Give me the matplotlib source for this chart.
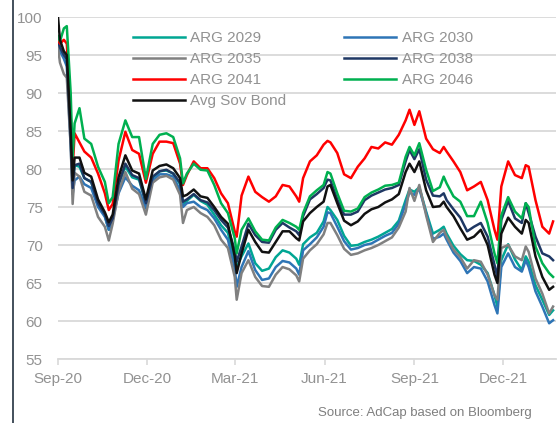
import matplotlib
matplotlib.use("Agg")
import matplotlib.pyplot as plt
import matplotlib.dates as mdates
from matplotlib.lines import Line2D
from matplotlib.patches import Rectangle
import numpy as np

plt.rcParams['font.family'] = ['Liberation Sans', 'DejaVu Sans']

# dates of the sampled points
dates = [
    "2020-09-01", "2020-09-03", "2020-09-07", "2020-09-10", "2020-09-14", "2020-09-16", "2020-09-18", "2020-09-23", "2020-09-28",
    "2020-10-05", "2020-10-12", "2020-10-19", "2020-10-23", "2020-10-27",
    "2020-11-02", "2020-11-09", "2020-11-16", "2020-11-23", "2020-11-30",
    "2020-12-07", "2020-12-14", "2020-12-21", "2020-12-28",
    "2021-01-04", "2021-01-07", "2021-01-11", "2021-01-18", "2021-01-25",
    "2021-02-01", "2021-02-08", "2021-02-15", "2021-02-22",
    "2021-03-01", "2021-03-03", "2021-03-08", "2021-03-15", "2021-03-22", "2021-03-29",
    "2021-04-05", "2021-04-12", "2021-04-19", "2021-04-26",
    "2021-05-03", "2021-05-06", "2021-05-10", "2021-05-17", "2021-05-24", "2021-05-31",
    "2021-06-04", "2021-06-07", "2021-06-14", "2021-06-21", "2021-06-28",
    "2021-07-05", "2021-07-12", "2021-07-19", "2021-07-26",
    "2021-08-02", "2021-08-09", "2021-08-16", "2021-08-23", "2021-08-27",
    "2021-09-01", "2021-09-06", "2021-09-13", "2021-09-20", "2021-09-27",
    "2021-10-01", "2021-10-04", "2021-10-11", "2021-10-18", "2021-10-25",
    "2021-11-01", "2021-11-08", "2021-11-15", "2021-11-22", "2021-11-25", "2021-11-29",
    "2021-12-06", "2021-12-13", "2021-12-20", "2021-12-24", "2021-12-27",
    "2022-01-03", "2022-01-10", "2022-01-17", "2022-01-21",
]

arg2029 = [97.0, 96.0, 95.0, 94.5, 84.0, 78.0, 80.5, 80.3, 78.8,
           78.3, 75.5, 73.8, 72.0, 73.5,
           78.0, 80.3, 78.9, 78.6, 75.5,
           78.8, 79.7, 79.8, 79.4,
           78.0, 75.3, 75.8, 76.6, 75.8,
           75.3, 74.0, 72.6, 71.6,
           68.0, 67.1, 68.5, 70.2, 67.6, 66.6,
           66.9, 68.4, 69.3, 69.0,
           68.2, 67.4, 70.1, 71.0, 71.6, 73.1,
           75.0, 74.6, 73.3, 71.2, 69.9,
           70.0, 70.4, 70.7, 71.1,
           71.6, 72.1, 73.2, 75.9, 77.3,
           77.0, 77.6, 74.4, 71.5, 72.0,
           72.4, 71.5, 69.9, 68.8, 68.0,
           67.9, 67.4, 66.3, 63.4, 61.9, 68.0,
           70.1, 68.1, 66.7, 68.5, 67.8,
           64.7, 62.8, 60.8, 61.4]

arg2030 = [96.5, 95.5, 94.5, 93.5, 83.0, 76.7, 78.5, 79.0, 78.0,
           77.5, 75.0, 73.7, 72.0, 73.3,
           76.8, 78.9, 77.8, 77.2, 74.8,
           78.5, 79.3, 79.3, 79.0,
           77.2, 75.0, 75.5, 75.7, 75.0,
           74.6, 73.5, 72.0, 70.7,
           66.9, 64.5, 67.1, 69.2, 66.7, 65.4,
           65.6, 67.1, 67.9, 67.7,
           66.9, 66.1, 69.3, 70.1, 71.0, 72.4,
           74.3, 74.2, 72.4, 70.5, 69.4,
           69.6, 70.0, 70.2, 70.7,
           71.2, 71.6, 72.8, 75.4, 76.9,
           76.6, 77.4, 74.2, 70.8, 71.1,
           71.5, 70.7, 69.0, 67.9, 66.3,
           67.1, 66.9, 65.2, 62.1, 61.0, 67.1,
           68.9, 67.1, 66.5, 68.0, 67.1,
           63.9, 61.9, 59.7, 60.1]

arg2035 = [96.0, 94.0, 92.5, 92.0, 83.0, 75.4, 79.5, 79.0, 77.0,
           76.5, 73.7, 72.4, 70.6, 72.8,
           77.0, 79.6, 77.4, 76.7, 74.0,
           78.2, 78.9, 79.1, 78.6,
           76.6, 72.9, 74.6, 75.0, 74.2,
           73.7, 72.6, 70.7, 69.6,
           65.8, 62.8, 66.3, 68.0, 65.8, 64.6,
           64.5, 66.1, 67.1, 66.8,
           66.0, 65.2, 68.2, 69.3, 70.1, 71.4,
           72.9, 72.9, 71.3, 69.5, 68.7,
           68.9, 69.3, 69.6, 70.0,
           70.5, 71.0, 72.3, 74.4, 77.5,
           75.8, 77.9, 73.9, 70.4, 71.6,
           72.0, 71.1, 69.4, 68.4, 66.9,
           68.0, 67.8, 66.1, 63.4, 62.8, 69.6,
           70.0, 68.5, 68.0, 69.8, 69.1,
           65.6, 63.6, 61.0, 61.9]

arg2038 = [97.0, 96.0, 95.0, 94.5, 84.0, 77.5, 80.5, 80.7, 78.8,
           78.3, 75.5, 74.0, 72.5, 73.5,
           78.0, 80.7, 79.2, 78.8, 75.5,
           79.0, 79.7, 79.9, 79.4,
           78.2, 75.7, 76.0, 76.7, 75.9,
           75.6, 74.6, 73.3, 72.3,
           69.3, 67.8, 69.8, 72.8, 71.3, 70.4,
           70.3, 72.0, 72.9, 72.3,
           71.8, 71.3, 73.8, 76.0, 76.7, 77.5,
           78.6, 78.5, 76.0, 74.0, 74.0,
           74.4, 75.9, 76.5, 76.9,
           77.3, 77.5, 77.9, 81.0, 82.5,
           81.3, 82.6, 78.6, 76.5, 76.4,
           76.8, 75.9, 74.7, 73.6, 71.8,
           72.4, 72.9, 71.1, 67.4, 65.8, 73.3,
           75.8, 73.5, 72.9, 75.5, 74.2,
           71.1, 68.9, 68.5, 68.0]

arg2041 = [97.0, 96.5, 97.0, 96.5, 87.0, 80.0, 84.7, 83.5, 82.3,
           81.5, 79.4, 76.8, 74.6, 75.4,
           81.1, 84.9, 82.5, 82.0, 78.2,
           82.0, 83.6, 83.6, 83.4,
           80.7, 77.9, 79.2, 81.0, 80.1,
           80.1, 78.8, 76.8, 75.5,
           71.8, 71.1, 76.5, 79.0, 77.0, 76.3,
           75.7, 76.4, 77.9, 77.7,
           76.4, 75.7, 78.8, 81.0, 81.8, 83.2,
           83.7, 83.5, 82.1, 79.3, 78.8,
           80.3, 81.4, 82.9, 82.7,
           83.5, 83.2, 84.5, 86.4, 87.8,
           85.8, 87.6, 84.0, 82.6, 82.1,
           82.9, 82.3, 81.0, 79.6, 77.2,
           77.7, 78.3, 75.9, 72.0, 70.7, 77.7,
           81.0, 79.2, 78.8, 80.5, 80.3,
           75.9, 72.4, 71.5, 73.1]

arg2046 = [97.5, 96.8, 98.5, 98.8, 90.0, 81.5, 86.0, 88.0, 84.0,
           83.3, 80.3, 78.3, 75.5, 76.3,
           83.3, 86.4, 84.2, 84.2, 78.7,
           83.3, 84.5, 84.7, 84.2,
           81.4, 78.1, 79.4, 80.7, 79.9,
           79.8, 77.9, 75.5, 74.2,
           70.9, 68.9, 72.0, 73.5, 71.8, 70.7,
           70.6, 72.3, 73.3, 72.9,
           72.4, 72.0, 74.2, 76.4, 77.2, 77.9,
           79.6, 79.4, 76.8, 74.5, 74.4,
           74.8, 76.3, 76.9, 77.3,
           77.8, 77.9, 78.2, 81.6, 82.9,
           81.8, 83.4, 79.9, 77.1, 77.6,
           79.0, 78.1, 76.4, 75.7, 73.8,
           73.8, 75.7, 72.9, 68.9, 67.6, 73.9,
           76.3, 74.4, 73.5, 75.5, 75.0,
           69.8, 67.6, 66.3, 65.8]

avg_sov = [100.0, 97.0, 95.5, 95.0, 85.0, 78.5, 81.5, 81.5, 79.5,
           79.0, 76.0, 74.3, 73.0, 74.0,
           78.9, 81.8, 79.8, 79.4, 76.0,
           79.8, 80.4, 80.6, 80.1,
           78.8, 76.4, 76.6, 77.3, 76.4,
           76.2, 75.0, 73.7, 72.8,
           68.5, 66.3, 68.9, 72.0, 70.4, 69.1,
           69.0, 70.4, 71.8, 71.8,
           70.9, 70.6, 73.1, 74.2, 75.0, 75.7,
           77.7, 77.9, 75.5, 73.2, 72.6,
           73.1, 74.1, 74.7, 75.0,
           75.6, 76.0, 76.7, 79.6, 80.7,
           79.6, 81.0, 77.2, 75.0, 75.1,
           75.7, 75.0, 73.8, 72.2, 70.7,
           71.1, 72.0, 70.0, 66.1, 65.0, 71.5,
           73.6, 72.4, 71.5, 73.3, 72.9,
           68.5, 65.8, 64.1, 64.5]

x = np.array(dates, dtype="datetime64[D]")

series = [
    ("ARG 2029", arg2029, "#00A693"),
    ("ARG 2030", arg2030, "#2E75B6"),
    ("ARG 2035", arg2035, "#808080"),
    ("ARG 2038", arg2038, "#1F3864"),
    ("ARG 2041", arg2041, "#FF0000"),
    ("ARG 2046", arg2046, "#00B050"),
    ("Avg Sov Bond", avg_sov, "#111111"),
]

fig = plt.figure(figsize=(5.58, 4.23), dpi=100)
ax = fig.add_axes([58 / 558, 1 - 359 / 423, 498 / 558, 342 / 423])

handles = {}
for name, vals, col in series:
    ln, = ax.plot(x, vals, color=col, lw=1.8, label=name, zorder=3)
    handles[name] = ln

ax.set_ylim(55, 100)
ax.set_yticks(range(55, 101, 5))
ax.set_xlim(np.datetime64("2020-09-01"), np.datetime64("2022-01-24"))
ax.xaxis.set_major_locator(mdates.MonthLocator(bymonth=[3, 6, 9, 12]))
ax.xaxis.set_major_formatter(mdates.DateFormatter("%b-%y"))

ax.grid(axis="y", color="#D9D9D9", lw=1.3, zorder=0)
for s in ["top", "right", "left"]:
    ax.spines[s].set_visible(False)
ax.spines["bottom"].set_color("#D9D9D9")
ax.spines["bottom"].set_linewidth(1.3)
ax.tick_params(axis="y", length=0, pad=11, labelsize=11, labelcolor="#929292")
ax.tick_params(axis="x", length=4, width=1.2, color="#D9D9D9", pad=5,
               labelsize=11, labelcolor="#929292")

# white box behind the legend hides the grid there
ax.add_patch(Rectangle((40 / 498, 87.0), 474 / 498, 12.0, facecolor="white",
                       edgecolor="none", zorder=1,
                       transform=ax.get_yaxis_transform()))

order = ["ARG 2029", "ARG 2035", "ARG 2041", "Avg Sov Bond",
         "ARG 2030", "ARG 2038", "ARG 2046"]
leg = fig.legend([handles[n] for n in order], order, ncol=2, loc="upper left",
                 bbox_to_anchor=(133 / 558, 1 - 31 / 423), frameon=False,
                 borderaxespad=0, borderpad=0, handlelength=3.4,
                 handletextpad=0.35, columnspacing=3.8, labelspacing=0.46,
                 fontsize=11)
for t in leg.get_texts():
    t.set_color("#929292")

# left border line of the original box
fig.add_artist(Line2D([13 / 558, 13 / 558], [0, 1], color="#22313F", lw=1.2))

fig.text(532 / 558, 1 - 416 / 423, "Source: AdCap based on Bloomberg",
         ha="right", va="baseline", fontsize=9.5, color="#7F7F7F")

fig.savefig("out.png", dpi=100)
